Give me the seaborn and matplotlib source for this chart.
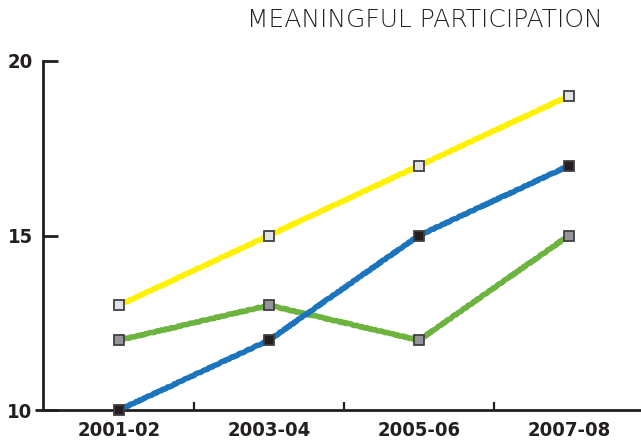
import matplotlib
matplotlib.use("Agg")
import matplotlib.pyplot as plt
import seaborn as sns
import pandas as pd

years = ["2001-02", "2003-04", "2005-06", "2007-08"]
yellow_vals = [13, 15, 17, 19]
green_vals = [12, 13, 12, 15]
blue_vals = [10, 12, 15, 17]
y_ticks = [10, 15, 20]
title = "MEANINGFUL PARTICIPATION"

sns.set_theme(style="white")
plt.rcParams["font.family"] = ["DejaVu Sans"]

fig = plt.figure(figsize=(6.41, 4.46), dpi=100)
ax = fig.add_axes([43 / 641, 36 / 446, 1 - 43 / 641, (410 - 61) / 446])

series = [
    (yellow_vals, "#FFF200", "#E2E3E4"),
    (green_vals, "#6CB33F", "#939598"),
    (blue_vals, "#1C75BC", "#231F20"),
]
x = list(range(len(years)))
for vals, lc, mfc in series:
    df = pd.DataFrame({"x": x, "y": vals})
    sns.lineplot(data=df, x="x", y="y", ax=ax, color=lc, linewidth=4.0,
                 marker="s", markersize=7, markerfacecolor=mfc,
                 markeredgecolor="#414042", markeredgewidth=1.3,
                 clip_on=False, zorder=3)
for ln in ax.lines:
    ln.set_sketch_params(0.4, 8, 4)
    ln.set_solid_capstyle("butt")

ax.set_xlim(-0.507, 3.48)
ax.set_ylim(10, 20)
ax.set_xticks(x)
ax.set_xticklabels(years)
ax.set_xticks([0.5, 1.5, 2.5], minor=True)
ax.set_yticks(y_ticks)
ax.set_xlabel("")
ax.set_ylabel("")

for s in ["top", "right"]:
    ax.spines[s].set_visible(False)
for s in ["left", "bottom"]:
    ax.spines[s].set_color("#231F20")
    ax.spines[s].set_linewidth(2.0)

ax.tick_params(axis="x", which="major", length=0, pad=8, labelsize=14.5,
               labelcolor="#231F20")
ax.tick_params(axis="x", which="minor", direction="in", length=6, width=1.6,
               color="#231F20", bottom=True)
ax.tick_params(axis="y", which="major", direction="in", length=11, width=2.0,
               color="#231F20", pad=7.5, labelsize=14.5, labelcolor="#231F20",
               left=True)
for lab in ax.get_xticklabels() + ax.get_yticklabels():
    lab.set_fontweight("bold")
    lab.set_fontstretch("condensed")

# extension of the baseline to the left of the y-axis
ax.plot([-8 / 598, 0], [0, 0], transform=ax.transAxes, color="#231F20",
        linewidth=2.0, clip_on=False, solid_capstyle="butt")

fig.text(603 / 641, 1 - 20 / 446, title, ha="right", va="center",
         fontsize=18, color="#222222", fontweight="light",
         family=["DejaVu Sans"])

fig.savefig("out.png", dpi=100)
